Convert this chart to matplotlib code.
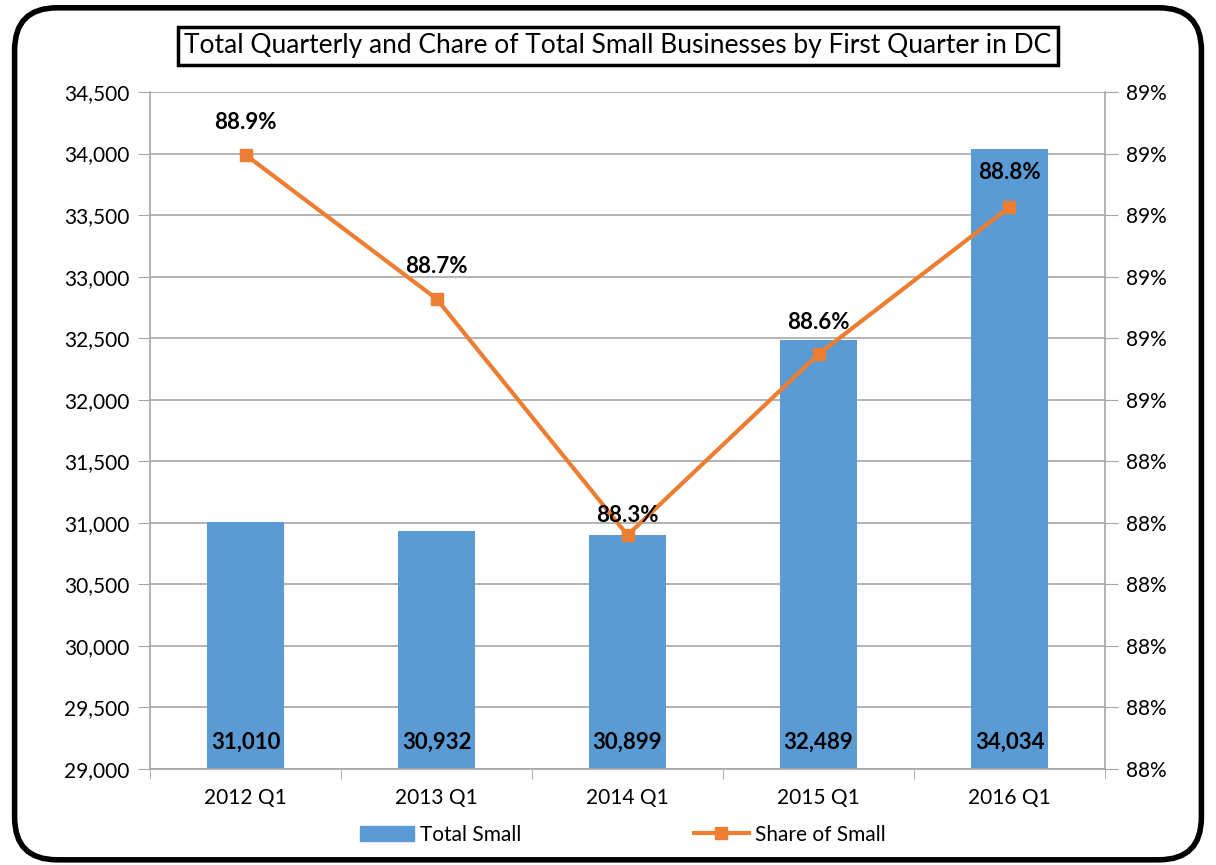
import matplotlib.pyplot as plt
from matplotlib.patches import FancyBboxPatch
from matplotlib.lines import Line2D
from matplotlib.patches import Patch

plt.rcParams['font.family'] = ['Lato', 'DejaVu Sans']

quarters = ['2012 Q1', '2013 Q1', '2014 Q1', '2015 Q1', '2016 Q1']
total_small = [31010, 30932, 30899, 32489, 34034]
share_small = [0.88898, 0.88664, 0.88280, 0.88574, 0.88813]
share_labels = ['88.9%', '88.7%', '88.3%', '88.6%', '88.8%']

left_ticks = list(range(29000, 34501, 500))
right_ticks = [0.879 + 0.001 * i for i in range(12)]
right_ticklabels = ['88%'] * 6 + ['89%'] * 6

bar_color = '#5B9BD5'
line_color = '#ED7D31'
grid_color = '#A6A6A6'

fig = plt.figure(figsize=(12.16, 8.65), dpi=100)

# rounded frame round the whole chart
frame = FancyBboxPatch((0.012, 0.006), 0.976, 0.985, boxstyle='round,pad=0,rounding_size=0.035',
                       transform=fig.transFigure, fill=False, lw=4, ec='black',
                       mutation_aspect=1216 / 865)
fig.patches.append(frame)

ax = fig.add_axes([0.1234, 0.111, 0.7853, 0.7826])
x = range(len(quarters))
ax.bar(x, total_small, width=0.405, color=bar_color, zorder=2)
ax.set_xlim(-0.5, 4.5)
ax.set_ylim(29000, 34500)
ax.set_yticks(left_ticks)
ax.set_yticklabels([f'{v:,}' for v in left_ticks])
ax.set_xticks(list(x))
ax.set_xticklabels(quarters)
ax.set_xticks([i - 0.5 for i in range(6)], minor=True)
ax.grid(axis='y', color=grid_color, lw=1.2, zorder=0)
ax.set_axisbelow(True)
ax.tick_params(axis='x', which='major', length=0, pad=14, labelsize=15)
ax.tick_params(axis='x', which='minor', length=7, color=grid_color, direction='out')
ax.tick_params(axis='y', length=9, color=grid_color, labelsize=15, pad=6)
for s in ['top', 'right']:
    ax.spines[s].set_visible(False)
ax.spines['left'].set_color(grid_color)
ax.spines['bottom'].set_color(grid_color)
ax.spines['left'].set_linewidth(1.2)
ax.spines['bottom'].set_linewidth(1.2)

for i, v in enumerate(total_small):
    ax.text(i, 29130, f'{v:,}', ha='center', va='bottom', fontsize=16, fontweight='bold', zorder=5)

ax2 = ax.twinx()
ax2.plot(x, share_small, color=line_color, lw=3, marker='s', ms=9, zorder=3)
ax2.set_ylim(0.879, 0.890)
ax2.set_yticks(right_ticks)
ax2.set_yticklabels(right_ticklabels)
ax2.tick_params(axis='y', length=9, color=grid_color, labelsize=15, pad=6)
for s in ['top', 'left', 'bottom']:
    ax2.spines[s].set_visible(False)
ax2.spines['right'].set_color(grid_color)
ax2.spines['right'].set_linewidth(1.2)

offsets = [23, 23, 14, 23, 25]
for i, (v, lab) in enumerate(zip(share_small, share_labels)):
    ax2.annotate(lab, (i, v), xytext=(0, offsets[i]), textcoords='offset points',
                 ha='center', va='center', fontsize=16, fontweight='bold')

fig.text(0.508, 0.947, 'Total Quarterly and Chare of Total Small Businesses by First Quarter in DC',
         ha='center', va='center', fontsize=19,
         bbox=dict(boxstyle='square,pad=0.25', fc='white', ec='black', lw=2.5))

handles = [Patch(color=bar_color, label='Total Small'),
           Line2D([], [], color=line_color, lw=3, marker='s', ms=9, label='Share of Small')]
fig.legend(handles=handles, loc='center', bbox_to_anchor=(0.512, 0.035), ncol=2, frameon=False,
           fontsize=15, handlelength=2.6, columnspacing=8.3, handletextpad=0.3)

fig.savefig('out.png', dpi=100)
